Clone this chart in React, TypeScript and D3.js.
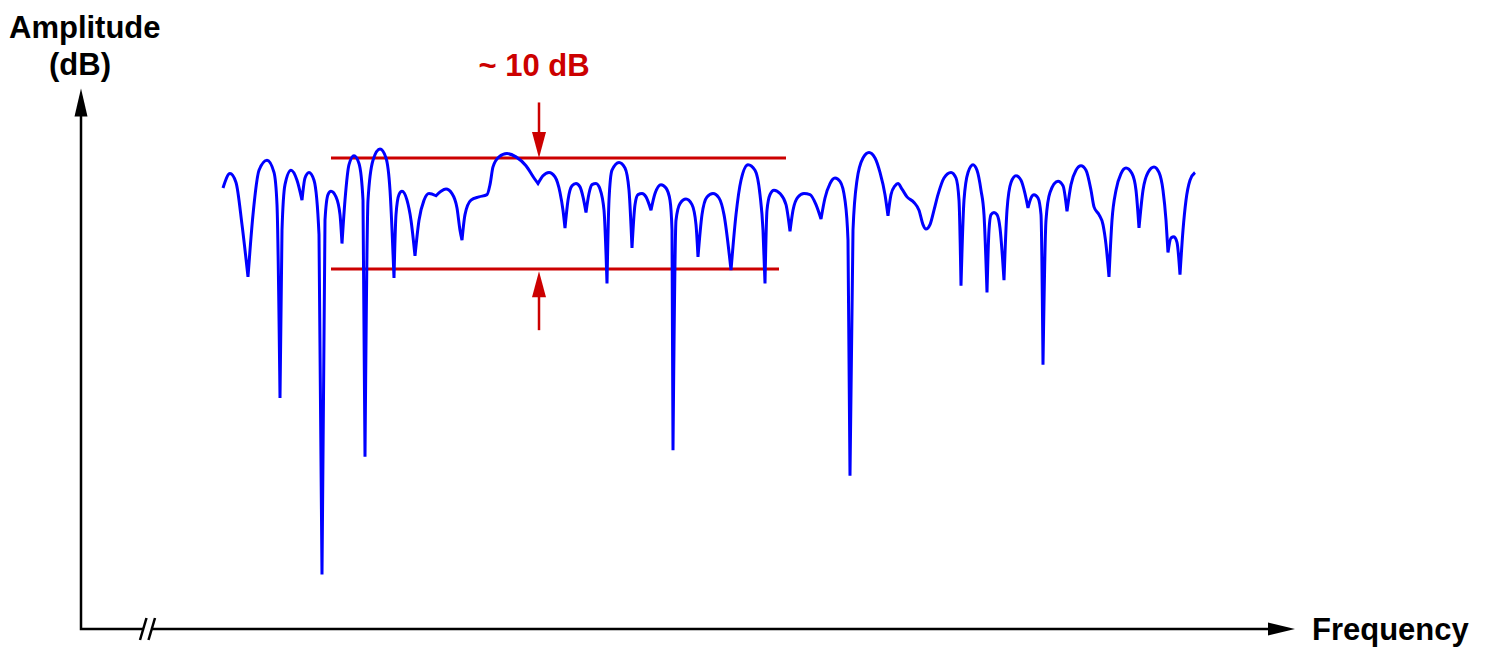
import React, { useEffect, useRef } from "react";
import * as d3 from "d3";

// spectrum: [frequency (arb. units), amplitude (dB, 0 = top of band)]
const spectrum: [number, number][] = [
  [142, -2.7], [149, -1.4], [155, -2.2], [161, -6.0], [167, -10.7],
  [172, -5.1], [178, -1.1], [186, -0.2], [193, -1.3], [196, -4.2], [199, -21.6],
  [201, -6.5], [204, -2.4], [210, -1.1], [216, -2.0], [221, -3.8],
  [224, -1.8], [228, -1.3], [233, -2.0], [238, -6.9], [241, -37.5],
  [244, -5.6], [247, -3.3], [250, -3.0], [255, -3.5], [259, -5.1], [261, -7.7],
  [264, -3.8], [268, -0.6], [273, 0.2], [278, -0.5], [282, -3.8], [284, -26.9],
  [287, -3.8], [292, -0.2], [299, 0.8], [305, 0], [309, -2.9], [313, -10.8],
  [315, -5.1], [318, -3.3], [321, -3.0], [326, -3.8], [330, -5.6], [334, -8.8],
  [338, -5.6], [343, -3.8], [348, -3.2], [355, -3.4],
  [360, -3.0], [365, -2.8], [371, -3.2], [376, -4.5], [379, -6.5], [381, -7.4],
  [384, -5.1], [390, -3.8], [398, -3.5], [406, -3.3], [409, -2.4], [412, -0.8],
  [418, 0.1], [426, 0.4], [435, 0.1], [445, -0.7], [453, -1.8], [457, -2.3],
  [462, -1.6], [468, -1.3], [474, -1.7], [479, -3.1], [482, -4.7], [484, -6.3],
  [487, -3.8], [491, -2.5], [495, -2.3], [499, -2.6], [502, -3.5], [505, -4.9],
  [508, -3.2], [511, -2.4], [515, -2.3], [519, -2.8], [523, -4.7], [526, -11.3],
  [528, -3.8], [531, -1.1], [538, -0.4], [544, -0.9], [548, -2.9], [551, -8.1],
  [554, -4.2], [557, -3.3], [561, -3.2], [565, -3.5], [570, -4.7],
  [574, -3.2], [580, -2.4], [585, -2.7], [589, -3.8], [591, -6.5], [592, -26.3],
  [595, -5.6], [599, -4.1], [605, -3.7], [611, -4.2], [615, -6.0], [617, -8.9],
  [621, -5.1], [626, -3.5], [632, -3.2], [638, -3.6], [643, -5.1], [650, -10.1],
  [655, -5.1], [660, -2.0], [667, -0.6], [674, -1.1], [679, -3.3], [682, -6.5], [684, -11.3],
  [686, -4.7], [689, -3.3], [693, -2.9], [699, -3.2], [705, -4.2], [709, -6.6],
  [712, -4.7], [717, -3.5], [723, -3.2], [729, -3.3], [735, -4.2], [740, -5.5],
  [744, -3.6], [749, -2.3], [754, -1.8], [759, -2.1], [764, -3.8], [767, -7.4], [769, -28.6],
  [772, -6.5], [776, -2.0], [782, 0], [788, 0.5], [794, 0], [799, -1.3], [804, -3.3], [807, -5.2],
  [810, -3.3], [814, -2.5], [817, -2.3], [821, -2.8], [826, -3.5], [833, -4.0], [838, -4.7],
  [842, -6.0], [845, -6.4], [849, -6.0], [853, -4.7], [857, -3.3], [863, -1.8], [870, -1.3],
  [875, -1.8], [878, -3.8], [880, -11.5],
  [883, -3.8], [887, -1.3], [892, -0.6], [896, -1.1], [900, -2.9], [903, -5.1], [906, -12.1],
  [908, -6.5], [910, -5.1], [913, -4.9], [916, -5.1], [919, -6.3], [923, -11.0],
  [926, -4.7], [930, -2.2], [935, -1.6], [940, -2.0], [944, -3.2], [947, -4.5],
  [950, -3.6], [953, -3.3], [957, -3.6], [960, -5.1], [962, -18.6],
  [965, -5.6], [969, -3.1], [977, -2.1], [982, -2.5], [986, -4.8],
  [990, -2.4], [995, -1.1], [1000, -0.7], [1005, -1.1], [1010, -2.9], [1013, -4.4],
  [1018, -5.1], [1022, -6.0], [1025, -7.8], [1028, -10.7],
  [1031, -5.6], [1035, -2.9], [1040, -1.4], [1045, -0.9], [1051, -1.4], [1055, -2.9], [1058, -6.3],
  [1062, -2.9], [1067, -1.3], [1073, -0.8], [1078, -1.3], [1082, -2.9], [1085, -5.6], [1087, -8.5],
  [1090, -7.2], [1093, -7.1], [1096, -7.6], [1099, -10.5],
  [1102, -6.5], [1105, -3.8], [1109, -2.0], [1114, -1.3],
];

// frequencies where the response has a sharp null (cusp)
const notches = [
  167, 199, 221, 241, 261, 284, 313, 334, 355, 381, 457, 484, 505, 526, 551, 570,
  592, 617, 650, 684, 709, 740, 769, 807, 880, 906, 923, 947, 962, 986, 1028,
  1058, 1087, 1099,
];

// ~10 dB band marker
const bandLevels = [0, -10];
const bandFreqs = [[250, 705], [250, 698]];
const markerFreq = 458;
const markerArrows = [[5, 0], [-15.5, -10.2]];
const bandLabel = "~ 10 dB";

const FONT = "'Liberation Sans', Arial, Helvetica, sans-serif";

const App = () => {
  const ref = useRef<SVGSVGElement | null>(null);

  useEffect(() => {
    const width = 1494;
    const height = 648;
    const svg = d3.select(ref.current);
    svg.selectAll("*").remove();

    const x = d3.scaleLinear().domain([0, 1215]).range([81, 1296]);
    const y = d3.scaleLinear().domain([-42.4, 0]).range([629, 158]);

    const blue = "#0000ff";
    const red = "#cc0000";

    // axes (plain arrows, no ticks)
    const x0 = x(0);
    const y0 = y(-42.4);
    const yTip = y(6.25);
    const xTip = x(1214);
    const breakA = x(62);
    const breakB = x(70.5);

    svg.append("path")
      .attr("d", `M${x0},${yTip + 20}L${x0},${y0}L${breakA},${y0}M${breakB},${y0}L${xTip - 20},${y0}`)
      .attr("fill", "none")
      .attr("stroke", "#000")
      .attr("stroke-width", 2.5);

    // axis break marks
    svg.append("g")
      .selectAll("line")
      .data([breakA, breakB])
      .join("line")
      .attr("x1", (d) => d - 3)
      .attr("y1", y0 + 11)
      .attr("x2", (d) => d + 3.5)
      .attr("y2", y0 - 11)
      .attr("stroke", "#000")
      .attr("stroke-width", 2.5);

    // arrowheads
    svg.append("path")
      .attr("d", `M${x0},${yTip}L${x0 - 6.5},${yTip + 28}L${x0 + 6.5},${yTip + 28}Z`)
      .attr("fill", "#000");
    svg.append("path")
      .attr("d", `M${xTip},${y0}L${xTip - 27},${y0 - 6.5}L${xTip - 27},${y0 + 6.5}Z`)
      .attr("fill", "#000");

    svg.append("text")
      .attr("x", 9)
      .attr("y", 38)
      .attr("font-family", FONT)
      .attr("font-weight", "bold")
      .attr("font-size", 31)
      .text("Amplitude");
    svg.append("text")
      .attr("x", 80)
      .attr("y", 75)
      .attr("text-anchor", "middle")
      .attr("font-family", FONT)
      .attr("font-weight", "bold")
      .attr("font-size", 31)
      .text("(dB)");
    svg.append("text")
      .attr("x", 1312)
      .attr("y", 640)
      .attr("font-family", FONT)
      .attr("font-weight", "bold")
      .attr("font-size", 31)
      .text("Frequency");

    // band lines
    svg.append("g")
      .selectAll("line")
      .data(bandLevels)
      .join("line")
      .attr("x1", (d, i) => x(bandFreqs[i][0]))
      .attr("x2", (d, i) => x(bandFreqs[i][1]))
      .attr("y1", (d) => y(d))
      .attr("y2", (d) => y(d))
      .attr("stroke", red)
      .attr("stroke-width", 3);

    // marker arrows
    const mx = x(markerFreq);
    markerArrows.forEach(([from, to]) => {
      const y1 = y(from);
      const y2 = y(to);
      const dir = y2 > y1 ? 1 : -1;
      svg.append("line")
        .attr("x1", mx).attr("x2", mx)
        .attr("y1", y1).attr("y2", y2 - dir * 20)
        .attr("stroke", red)
        .attr("stroke-width", 2.5);
      svg.append("path")
        .attr("d", `M${mx},${y2}L${mx - 7},${y2 - dir * 26}L${mx + 7},${y2 - dir * 26}Z`)
        .attr("fill", red);
    });

    svg.append("text")
      .attr("x", mx - 5)
      .attr("y", 76)
      .attr("text-anchor", "middle")
      .attr("font-family", FONT)
      .attr("font-weight", "bold")
      .attr("font-size", 31)
      .attr("fill", red)
      .text(bandLabel);

    // split the trace into lobes at the nulls, each lobe smoothed on its own
    const notchSet = new Set(notches);
    const lobes: [number, number][][] = [];
    let cur: [number, number][] = [];
    spectrum.forEach((p) => {
      cur.push(p);
      if (notchSet.has(p[0])) {
        lobes.push(cur);
        cur = [p];
      }
    });
    if (cur.length > 1) lobes.push(cur);

    const line = d3.line<[number, number]>()
      .x((d) => x(d[0]))
      .y((d) => y(d[1]))
      .curve(d3.curveMonotoneX);

    let pathD = "";
    lobes.forEach((lobe, i) => {
      const p = line(lobe) || "";
      pathD += i === 0 ? p : p.replace(/^M[^A-Za-z]*/, "");
    });

    svg.append("path")
      .attr("d", pathD)
      .attr("fill", "none")
      .attr("stroke", blue)
      .attr("stroke-width", 3)
      .attr("stroke-linejoin", "miter")
      .attr("stroke-miterlimit", 2);

    svg.attr("width", width).attr("height", height);
  }, []);

  return (
    <svg
      ref={ref}
      width={1494}
      height={648}
      style={{ position: "absolute", left: 0, top: 0, background: "#fff" }}
    />
  );
};

export default App;
